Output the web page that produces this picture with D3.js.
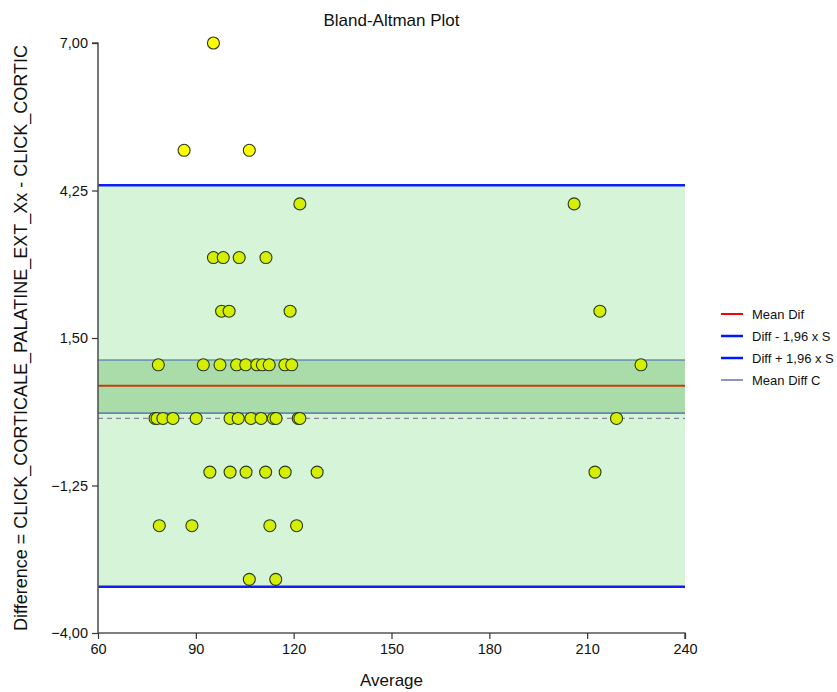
<!DOCTYPE html>
<html><head><meta charset="utf-8">
<script src="https://cdn.jsdelivr.net/npm/d3@7"></script>
<style>body{margin:0;background:#fff}svg{display:block;font-family:"Liberation Sans",Arial,sans-serif}</style>
</head><body><svg id="c" width="837" height="692"></svg>
<script>
// Data: x = average, y = difference
const averages = [
  95.4,
  86.4, 106.4,
  121.9, 206.0,
  95.4, 98.4, 103.3, 111.5,
  97.9, 100.2, 118.9, 213.9,
  78.5, 92.3, 97.4, 102.5, 105.3, 108.7, 110.4, 112.5, 117.3, 119.4, 226.5,
  77.5, 78.1, 79.9, 83.0, 90.1, 100.5, 103.0, 106.9, 110.0, 113.8, 114.6, 121.4, 121.9, 219.0,
  94.3, 100.5, 105.4, 111.4, 117.4, 127.2, 212.4,
  78.8, 88.8, 112.7, 120.9,
  106.4, 114.5
];
const differences = [
  7,
  5, 5,
  4, 4,
  3, 3, 3, 3,
  2, 2, 2, 2,
  1, 1, 1, 1, 1, 1, 1, 1, 1, 1, 1,
  0, 0, 0, 0, 0, 0, 0, 0, 0, 0, 0, 0, 0, 0,
  -1, -1, -1, -1, -1, -1, -1,
  -2, -2, -2, -2,
  -3, -3
];
// Reference lines: mean diff, lower/upper limits, CI of mean
const meanDiff = 0.61;
const limits = [-3.14, 4.35];
const meanCI = [0.10, 1.09];
const zeroLine = 0;
const xTicks = [60, 90, 120, 150, 180, 210, 240];
const yTicks = [-4, -1.25, 1.5, 4.25, 7];
const legendLabels = ["Mean Dif", "Diff - 1,96 x S", "Diff + 1,96 x S", "Mean Diff C"];

const svg = d3.select("#c");
const L = 98, R = 685, T = 43, B = 633;
const x = d3.scaleLinear().domain([60, 240]).range([L, R]);
const y = d3.scaleLinear().domain([-4, 7]).range([B, T]);
const fmt = v => d3.format(".2f")(v).replace(".", ",");

// bands
svg.append("rect").attr("x", L).attr("width", R - L)
  .attr("y", y(limits[1])).attr("height", y(limits[0]) - y(limits[1]))
  .attr("fill", "#d6f4d7");
svg.append("rect").attr("x", L).attr("width", R - L)
  .attr("y", y(meanCI[1])).attr("height", y(meanCI[0]) - y(meanCI[1]))
  .attr("fill", "#a9dca8");

function hline(v, color, w, dash) {
  const l = svg.append("line").attr("x1", L).attr("x2", R)
    .attr("y1", y(v)).attr("y2", y(v))
    .attr("stroke", color).attr("stroke-width", w);
  if (dash) l.attr("stroke-dasharray", dash);
}
hline(zeroLine, "#8f7fa0", 1.3, "5,4");
meanCI.forEach(v => hline(v, "#3a64b0", 1.2));
hline(meanDiff, "#c0400c", 2.2);
limits.forEach(v => hline(v, "#1020f0", 2.5));

// points
const pts = averages.map((a, i) => ({a, d: differences[i]}));
svg.append("g").selectAll("circle").data(pts).join("circle")
  .attr("cx", p => x(p.a)).attr("cy", p => y(p.d)).attr("r", 6)
  .attr("fill", p => (p.d > limits[1] || p.d < limits[0]) ? "#ffff00" : "#d4ef00")
  .attr("stroke", "#2a3a20").attr("stroke-width", 1.1);

// axes
const ax = svg.append("g").attr("transform", `translate(0,${B})`)
  .call(d3.axisBottom(x).tickValues(xTicks).tickSize(6).tickPadding(5).tickFormat(d3.format("d")));
const ay = svg.append("g").attr("transform", `translate(${L},0)`)
  .call(d3.axisLeft(y).tickValues(yTicks).tickSize(6).tickPadding(4).tickFormat(fmt));
[ax, ay].forEach(g => {
  g.select(".domain").attr("stroke", "#555").attr("stroke-width", 1.6);
  g.selectAll(".tick line").attr("stroke", "#333").attr("stroke-width", 1.2);
  g.selectAll("text").attr("font-size", 14.5).attr("fill", "#111")
    .attr("font-family", '"Liberation Sans",Arial,sans-serif');
});
ax.select(".domain").attr("d", `M${L},0H${R}V6`);
ay.select(".domain").attr("d", `M-6,${T}H0V${B}`);

// titles
svg.append("text").attr("x", (L + R) / 2).attr("y", 26).attr("text-anchor", "middle")
  .attr("font-size", 17).attr("fill", "#111").text("Bland-Altman Plot");
svg.append("text").attr("x", (L + R) / 2).attr("y", 686).attr("text-anchor", "middle")
  .attr("font-size", 17).attr("fill", "#111").text("Average");
svg.append("text").attr("transform", `translate(27,${(T + B) / 2}) rotate(-90)`)
  .attr("text-anchor", "middle").attr("font-size", 18).attr("fill", "#111")
  .text("Difference = CLICK_CORTICALE_PALATINE_EXT_Xx - CLICK_CORTIC");

// legend
const legColors = ["#ff0000", "#0018ff", "#0018ff", "#1a2a90"];
const legWidths = [2, 2.5, 2.5, 1];
const lg = svg.append("g");
legendLabels.forEach((t, i) => {
  const yy = 314 + i * 22;
  lg.append("line").attr("x1", 721).attr("x2", 743).attr("y1", yy).attr("y2", yy)
    .attr("stroke", legColors[i]).attr("stroke-width", legWidths[i]);
  lg.append("text").attr("x", 752).attr("y", yy + 4.5).attr("font-size", 13)
    .attr("fill", "#111").text(t);
});
</script></body></html>
